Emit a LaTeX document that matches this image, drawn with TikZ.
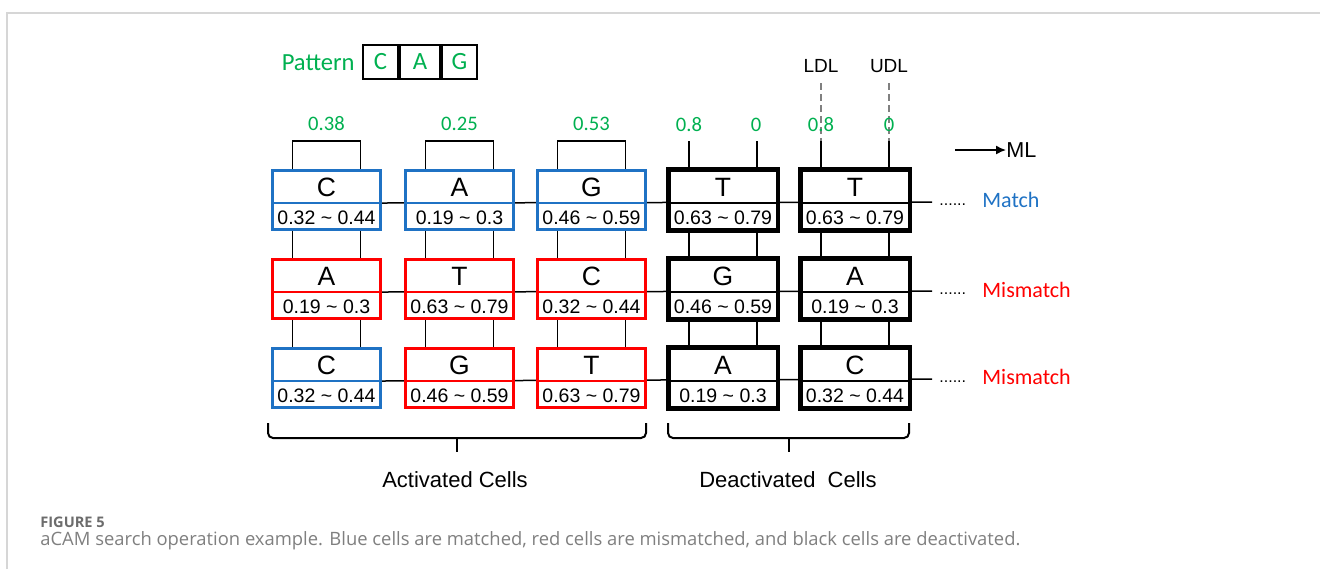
\documentclass[tikz,border=0pt]{standalone}
\usepackage{fontspec}
\setmainfont{Liberation Sans}
\newfontfamily\calfont{Carlito}
\newfontfamily\capfont{Open Sans}
\usetikzlibrary{arrows.meta,backgrounds}

\definecolor{cgreen}{HTML}{00B050}
\definecolor{cblue}{HTML}{1F72C4}
\definecolor{cred}{HTML}{FF0000}
\definecolor{framegray}{HTML}{D6D6D6}
\definecolor{capgray}{HTML}{7F7F7F}

\tikzset{
  cellbox/.style={rectangle, fill=white, line width=1.5pt, inner sep=0pt,
    minimum width=54pt, minimum height=29.5pt},
  basetxt/.style={font=\fontsize{13.25pt}{15pt}\selectfont, inner sep=0pt},
  rangetxt/.style={font=\fontsize{9.75pt}{11pt}\selectfont, inner sep=0pt},
  wire/.style={line width=0.75pt, black},
  valtxt/.style={font=\calfont\fontsize{10.3pt}{12pt}\selectfont, text=cgreen, inner sep=0pt},
  rowtag/.style={font=\calfont\fontsize{11pt}{13pt}\selectfont, anchor=west, inner sep=0pt},
  dline/.style={line width=0.75pt, draw=gray, dash pattern=on 3.5pt off 2pt},
  bracepath/.style={line width=1pt, rounded corners=2.5pt},
  pbox/.style={rectangle, draw, line width=1pt, inner sep=0pt, minimum height=17pt,
    font=\calfont\fontsize{12.4pt}{14pt}\selectfont, text=cgreen},
}

% #1 name, #2 centre x, #3 top y, #4 colour, #5 base letter, #6 range
\newcommand{\acell}[6]{%
  \node[cellbox, draw=#4] (#1) at (#2,#3+31) {};
  \draw[line width=1pt, #4] ([yshift=-1.5pt]#1.west) -- ([yshift=-1.5pt]#1.east);
  \node[basetxt] (#1-b) at (#2,#3+18) {#5};
  \node[rangetxt] (#1-r) at (#2,#3+49) {#6};
}
\newcommand{\tl}{\textasciitilde}

\begin{document}
\begin{tikzpicture}[x=0.5pt,y=-0.5pt]
\useasboundingbox (0,0) rectangle (1320,569);

% page frame
\draw[framegray, line width=1pt] (7,569) -- (7,13) -- (1320,13);

% search pattern
\node[font=\calfont\fontsize{12.3pt}{14pt}\selectfont, text=cgreen, anchor=east, inner sep=0pt]
  (pat) at (355,63) {Pattern};
\node[pbox, minimum width=17.5pt] (p1) at (380.5,62) {C};
\node[pbox, minimum width=20pt, anchor=west] (p2) at (p1.east) {A};
\node[pbox, minimum width=17.5pt, anchor=west] (p3) at (p2.east) {G};

% cell array
\acell{a1}{326.5}{169}{cblue}{C}{0.32 \tl{} 0.44}
\acell{a2}{459.5}{169}{cblue}{A}{0.19 \tl{} 0.3}
\acell{a3}{591.5}{169}{cblue}{G}{0.46 \tl{} 0.59}
\acell{a4}{723}{169}{black}{T}{0.63 \tl{} 0.79}
\acell{a5}{855}{169}{black}{T}{0.63 \tl{} 0.79}

\acell{b1}{326.5}{258}{cred}{A}{0.19 \tl{} 0.3}
\acell{b2}{459.5}{258}{cred}{T}{0.63 \tl{} 0.79}
\acell{b3}{591.5}{258}{cred}{C}{0.32 \tl{} 0.44}
\acell{b4}{723}{258}{black}{G}{0.46 \tl{} 0.59}
\acell{b5}{855}{258}{black}{A}{0.19 \tl{} 0.3}

\acell{c1}{326.5}{347}{cblue}{C}{0.32 \tl{} 0.44}
\acell{c2}{459.5}{347}{cred}{G}{0.46 \tl{} 0.59}
\acell{c3}{591.5}{347}{cred}{T}{0.63 \tl{} 0.79}
\acell{c4}{723}{347}{black}{A}{0.19 \tl{} 0.3}
\acell{c5}{855}{347}{black}{C}{0.32 \tl{} 0.44}

% deactivated cells get a heavier outline
\foreach \n in {a4,a5,b4,b5,c4,c5}
  \draw[line width=1.75pt] (\n.north west) rectangle (\n.south east);

% match-line ends
\coordinate (m1) at (932,202);
\coordinate (m2) at (932,291);
\coordinate (m3) at (932,379);

\begin{scope}[on background layer]
  % match lines
  \draw[wire] ([yshift=-1.5pt]a1.east) -- (m1);
  \draw[wire] ([yshift=-1.5pt]b1.east) -- (m2);
  \draw[wire] ([yshift=-1.5pt]c1.east) -- (m3);
  % data lines between rows
  \foreach \c in {1,...,5}{
    \draw[wire] ([xshift=-17pt]a\c.south) -- ([xshift=-17pt]b\c.north);
    \draw[wire] ([xshift=17pt]a\c.south) -- ([xshift=17pt]b\c.north);
    \draw[wire] ([xshift=-17pt]b\c.south) -- ([xshift=-17pt]c\c.north);
    \draw[wire] ([xshift=17pt]b\c.south) -- ([xshift=17pt]c\c.north);
  }
\end{scope}

% inputs of the activated columns
\foreach \c/\v in {1/0.38,2/0.25,3/0.53}{
  \draw[wire] ([xshift=-17pt]a\c.north) -- ++(0,-28) -- ++(68,0) -- ([xshift=17pt]a\c.north);
  \node[valtxt] (v\c) at ([yshift=22.5pt]a\c.north) {\v};
}

% inputs of the deactivated columns
\foreach \c in {4,5}{
  \draw[wire] ([xshift=-17pt]a\c.north) -- ++(0,-28) coordinate (lt\c);
  \draw[wire] ([xshift=17pt]a\c.north) -- ++(0,-28) coordinate (ut\c);
}
\node[valtxt] (v4l) at (689,125) {0.8};
\node[valtxt] (v4u) at (756,125) {0};

\node[font=\fontsize{9.5pt}{11pt}\selectfont, inner sep=0pt] (ldl) at (821,66) {LDL};
\node[font=\fontsize{9.5pt}{11pt}\selectfont, inner sep=0pt] (udl) at (889,66) {UDL};
\draw[dline] ([yshift=-8.5pt]ldl.center) -- (lt5);
\draw[dline] ([yshift=-8.5pt]udl.center) -- (ut5);
\node[valtxt] (v5l) at (821,125) {0.8};
\node[valtxt] (v5u) at (889,125) {0};

% match-line legend
\coordinate (mla) at (955,150);
\node[font=\fontsize{10.8pt}{12pt}\selectfont, anchor=west, inner sep=0pt] (ml) at (1006,150) {ML};
\draw[line width=0.75pt, -{Latex[length=5pt,width=4.5pt]}] (mla) -- (ml.west);

% match-line outcomes
\foreach \i/\y in {1/202,2/291,3/379}
  \node[font=\fontsize{8pt}{9pt}\selectfont, anchor=base west, inner sep=0pt] (dots\i) at (939,\y+3) {......};
\node[rowtag, text=cblue] (res1) at (982,200) {Match};
\node[rowtag, text=cred] (res2) at (982,290) {Mismatch};
\node[rowtag, text=cred] (res3) at (982,377) {Mismatch};

% group braces
\draw[bracepath] (268,423) -- (268,438) -- (646,438) -- (646,423);
\draw[line width=1pt] (457,438) -- (457,452);
\draw[bracepath] (668,423) -- (668,438) -- (909,438) -- (909,423);
\draw[line width=1pt] (789,438) -- (789,452);
\node[font=\fontsize{11pt}{13pt}\selectfont, inner sep=0pt] (act) at (455,480) {Activated Cells};
\node[font=\fontsize{11pt}{13pt}\selectfont, inner sep=0pt] (deact) at (788,480) {Deactivated\ \ Cells};

% caption
\node[font=\capfont\bfseries\fontsize{7.3pt}{9pt}\selectfont, text=capgray!85!black, anchor=base west, inner sep=0pt]
  (fig) at (40,527.5) {FIGURE 5};
\node[font=\capfont\fontsize{9.2pt}{11pt}\selectfont, text=capgray, anchor=base west, inner sep=0pt]
  (cap) at (40,545.5) {aCAM search operation example. Blue cells are matched, red cells are mismatched, and black cells are deactivated.};
\end{tikzpicture}
\end{document}
